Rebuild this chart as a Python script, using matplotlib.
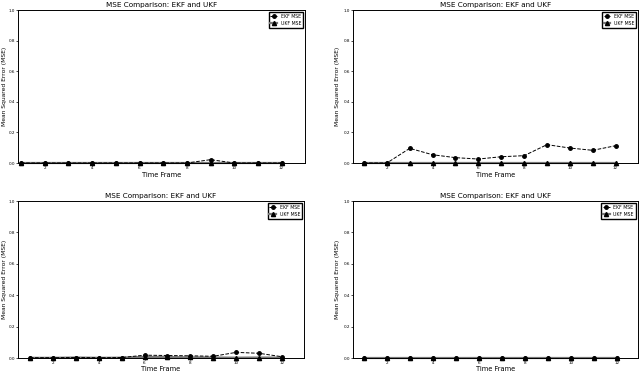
import matplotlib
matplotlib.use("Agg")
import matplotlib.pyplot as plt

time_frames = [1, 2, 3, 4, 5, 6, 7, 8, 9, 10, 11, 12]
x_ticks = [2, 4, 6, 8, 10, 12]
y_ticks = [0.0, 0.2, 0.4, 0.6, 0.8, 1.0]

ekf_mse_tl = [0, 0, 0, 0, 0, 0, 0, 0, 0.022, 0, 0, 0]
ukf_mse_tl = [0, 0, 0, 0, 0, 0, 0, 0, 0, 0, 0, 0]

ekf_mse_tr = [0, 0, 0.096, 0.054, 0.035, 0.026, 0.041, 0.048, 0.12, 0.098, 0.083, 0.113]
ukf_mse_tr = [0, 0, 0, 0, 0, 0, 0, 0, 0, 0, 0, 0]

ekf_mse_bl = [0.002, 0.002, 0.003, 0.002, 0.003, 0.018, 0.016, 0.014, 0.011, 0.036, 0.030, 0.008]
ukf_mse_bl = [0.001, 0.001, 0.003, 0.001, 0.002, 0.007, 0.006, 0.004, 0.003, 0.002, 0.003, 0.002]

ekf_mse_br = [0, 0, 0, 0, 0, 0, 0, 0, 0, 0, 0, 0]
ukf_mse_br = [0, 0, 0, 0, 0, 0, 0, 0, 0, 0, 0, 0]

title = "MSE Comparison: EKF and UKF"
xlabel = "Time Frame"
ylabel = "Mean Squared Error (MSE)"

fig = plt.figure(figsize=(6.4, 3.72), dpi=100)

panels = [
    ([0.0281, 0.5618, 0.449, 0.411], ekf_mse_tl, ukf_mse_tl, (0.87, 13.0), -0.037, -0.062),
    ([0.5516, 0.5618, 0.446, 0.411], ekf_mse_tr, ukf_mse_tr, (0.52, 13.0), -0.045, -0.062),
    ([0.0281, 0.0376, 0.447, 0.422], ekf_mse_bl, ukf_mse_bl, (0.48, 12.96), -0.037, -0.052),
    ([0.5516, 0.0376, 0.445, 0.422], ekf_mse_br, ukf_mse_br, (0.52, 12.9), -0.045, -0.052),
]

for rect, ekf, ukf, xl, ylx, xly in panels:
    ax = fig.add_axes(rect)
    ax.plot(time_frames, ukf, color="#777777", linewidth=1.6, marker="^",
            markersize=3, markerfacecolor="black", markeredgecolor="black",
            label="UKF MSE", clip_on=False, zorder=2)
    ax.plot(time_frames, ekf, color="black", linestyle="--", linewidth=0.7,
            marker="o", markersize=2.5, label="EKF MSE", clip_on=False, zorder=3)
    ax.set_xlim(*xl)
    ax.set_ylim(0, 1.0)
    ax.set_xticks(x_ticks)
    ax.set_yticks(y_ticks)
    ax.set_yticklabels([f"{v:.1f}" for v in y_ticks])
    ax.tick_params(labelsize=3, length=1.5, width=0.5, pad=0.8)
    ax.set_title(title, fontsize=5.2, pad=2)
    ax.set_xlabel(xlabel, fontsize=4.8)
    ax.set_ylabel(ylabel, fontsize=4.3)
    ax.yaxis.set_label_coords(ylx, 0.5)
    ax.xaxis.set_label_coords(0.5, xly)
    for s in ax.spines.values():
        s.set_linewidth(0.7)
    h, l = ax.get_legend_handles_labels()
    ax.legend(h[::-1], l[::-1], loc="upper right", fontsize=3.3,
              handlelength=1.5, borderpad=0.35, labelspacing=0.45,
              fancybox=False, edgecolor="black", framealpha=1)

fig.savefig("out.png", dpi=100)
